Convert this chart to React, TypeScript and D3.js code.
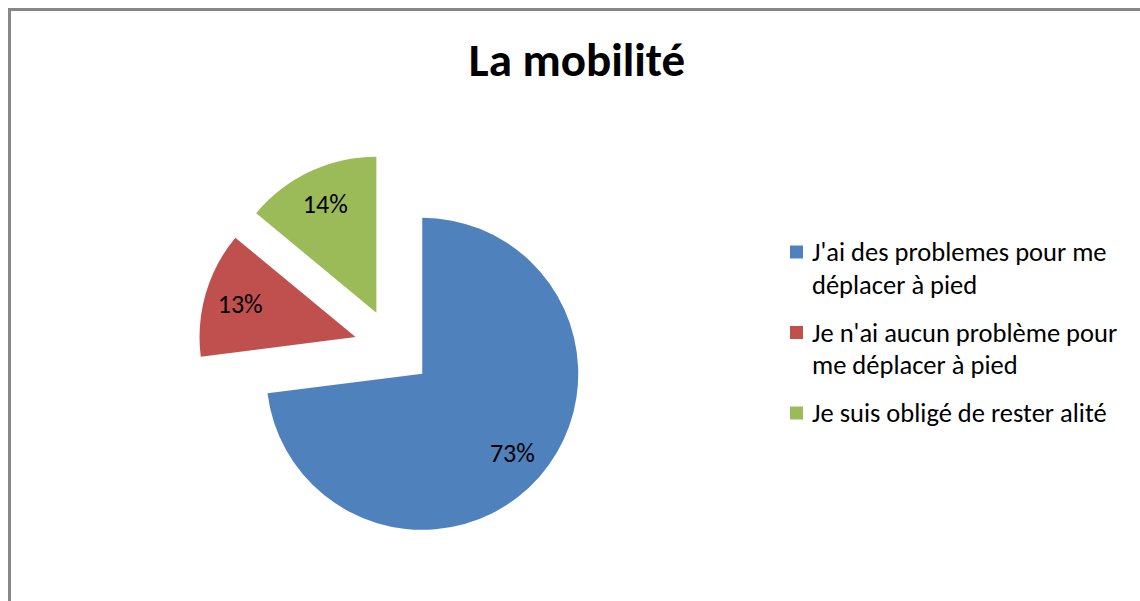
import React from "react";
import * as d3 from "d3";

const categories = [
  "J'ai des problemes pour me déplacer à pied",
  "Je n'ai aucun problème pour me déplacer à pied",
  "Je suis obligé de rester alité",
];
const legendLines = [
  ["J'ai des problemes pour me", "déplacer à pied"],
  ["Je n'ai aucun problème pour", "me déplacer à pied"],
  ["Je suis obligé de rester alité"],
];
const values = [73, 13, 14];
const colors = ["#4F81BD", "#C0504D", "#9BBB59"];
const title = "La mobilité";

const W = 1140;
const H = 601;
const FONT = "Carlito, Calibri, Lato, sans-serif";

export default function App() {
  const cx = 393;
  const cy = 348;
  const r = 156;
  const explode = 39;
  const pie = d3.pie<number>().sort(null).value((d) => d).startAngle(0).endAngle(2 * Math.PI);
  const arcs = pie(values);
  const arc = d3.arc<d3.PieArcDatum<number>>().innerRadius(0).outerRadius(r);
  const total = d3.sum(values);
  const fmt = d3.format(".0%");

  const legendX = 790;
  const sq = 13;
  let ly = 252;
  const legendItems = legendLines.map((lines, i) => {
    const y0 = ly;
    ly += lines.length * 32.5 + 15.5;
    return { lines, y0, color: colors[i] };
  });

  return (
    <svg width={W} height={H} style={{ position: "absolute", left: 0, top: 0, background: "#fff" }} fontFamily={FONT}>
      <rect x={0} y={0} width={W} height={H} fill="#fff" />
      <rect x={9.5} y={9.5} width={W + 20} height={H + 20} fill="none" stroke="#878787" strokeWidth={3} />
      <text x={577} y={76} textAnchor="middle" fontSize={47} fontWeight="bold" fill="#000">
        {title}
      </text>
      <g>
        {arcs.map((a, i) => {
          const mid = (a.startAngle + a.endAngle) / 2;
          const dx = Math.sin(mid) * explode;
          const dy = -Math.cos(mid) * explode;
          const lx = Math.sin(mid) * r * 0.77;
          const ly2 = -Math.cos(mid) * r * 0.77;
          return (
            <g key={i} transform={`translate(${cx + dx},${cy + dy})`}>
              <path d={arc(a) || ""} fill={colors[i]} />
              <text x={lx} y={ly2} textAnchor="middle" dominantBaseline="central" fontSize={26} fill="#000">
                {fmt(values[i] / total)}
              </text>
            </g>
          );
        })}
      </g>
      <g>
        {legendItems.map((it, i) => (
          <g key={i}>
            <title>{categories[i]}</title>
            <rect x={legendX} y={it.y0 - 6.5} width={sq} height={sq} fill={it.color} />
            {it.lines.map((ln, j) => (
              <text key={j} x={812} y={it.y0 + j * 32.5} dominantBaseline="central" fontSize={26.5} fill="#000">
                {ln}
              </text>
            ))}
          </g>
        ))}
      </g>
    </svg>
  );
}
